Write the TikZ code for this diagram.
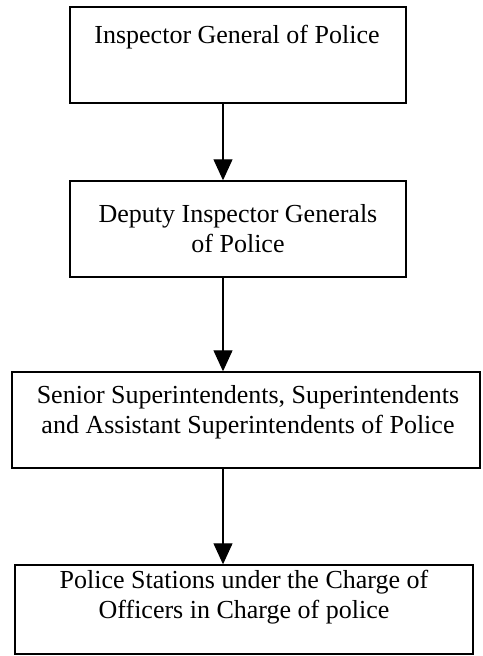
\documentclass[tikz,border=0pt]{standalone}
\usepackage{fontspec}
\setmainfont{Liberation Serif}
\usetikzlibrary{arrows.meta}
\begin{document}
\begin{tikzpicture}[x=1pt,y=-1pt,
  box/.style={draw, line width=1.4pt, rectangle, inner sep=0pt},
  txt/.style={align=center, inner sep=0pt, font=\fontsize{26}{30}\selectfont},
  arr/.style={line width=1.1pt, -{Triangle[width=19pt,length=21pt]}}]
\useasboundingbox (0,0) rectangle (482,656);
\node[box, minimum width=336pt, minimum height=96pt] (b1) at (238,55) {};
\node[box, minimum width=336pt, minimum height=96pt] (b2) at (238,229) {};
\node[box, minimum width=468pt, minimum height=96pt] (b3) at (246,420) {};
\node[box, minimum width=458pt, minimum height=89pt] (b4) at (244,609.5) {};
\node[txt] (t1) at (237,37) {Inspector General of Police};
\node[txt] (t2) at (238,229) {Deputy Inspector Generals\\of Police};
\node[txt] (t3) at (248,412) {Senior Superintendents, Superintendents\\and Assistant Superintendents of Police};
\node[txt] (t4) at (244,597) {Police Stations under the Charge of\\Officers in Charge of police};
\coordinate (ax) at (223,0);
\draw[arr] (b1.south -| ax) -- (b2.north -| ax);
\draw[arr] (b2.south -| ax) -- (b3.north -| ax);
\draw[arr] (b3.south -| ax) -- (b4.north -| ax);
\end{tikzpicture}
\end{document}
